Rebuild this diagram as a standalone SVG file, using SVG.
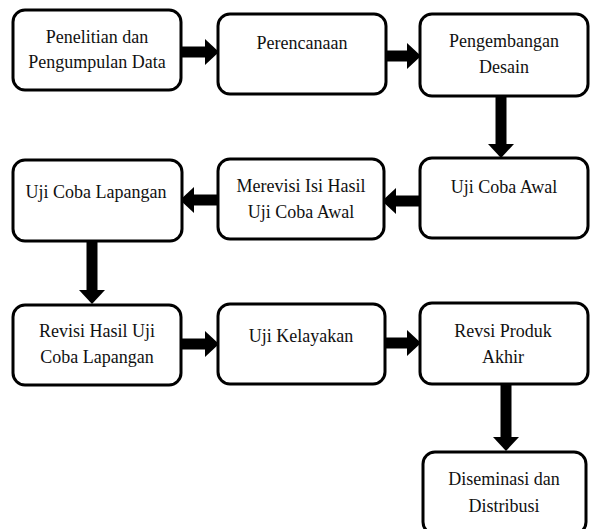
<svg xmlns="http://www.w3.org/2000/svg" width="590" height="529" viewBox="0 0 590 529">
<style>
.box{fill:#fff;stroke:#000;stroke-width:3}
.t{font-size:18px;fill:#111;text-anchor:middle}
.c{stroke:#000;stroke-width:11;fill:none}
</style>
<defs>
<marker id="ah" markerUnits="userSpaceOnUse" markerWidth="14" markerHeight="26" viewBox="0 0 14 26" refX="0" refY="13" orient="auto">
<path d="M0,0 L14,13 L0,26 Z" fill="#000"/>
</marker>
</defs>
<rect width="590" height="529" fill="#fff"/>
<g id="connectors">
<line class="c" x1="181" y1="52" x2="205" y2="52" marker-end="url(#ah)"/>
<line class="c" x1="386" y1="56" x2="407" y2="56" marker-end="url(#ah)"/>
<line class="c" x1="501" y1="96" x2="501" y2="144" marker-end="url(#ah)"/>
<line class="c" x1="420" y1="201" x2="396" y2="201" marker-end="url(#ah)"/>
<line class="c" x1="218" y1="200" x2="194" y2="200" marker-end="url(#ah)"/>
<line class="c" x1="92" y1="241" x2="92" y2="290" marker-end="url(#ah)"/>
<line class="c" x1="181" y1="344" x2="205" y2="344" marker-end="url(#ah)"/>
<line class="c" x1="385" y1="343" x2="407" y2="343" marker-end="url(#ah)"/>
<line class="c" x1="506" y1="384" x2="506" y2="437" marker-end="url(#ah)"/>
</g>
<g font-family="Liberation Serif, Times New Roman, serif">
<g id="n1"><rect class="box" x="13" y="10" width="168" height="80" rx="12"/><text class="t" x="97" y="43">Penelitian dan</text><text class="t" x="97" y="68">Pengumpulan Data</text></g>
<g id="n2"><rect class="box" x="218" y="14" width="168" height="80" rx="12"/><text class="t" x="302" y="49">Perencanaan</text></g>
<g id="n3"><rect class="box" x="420" y="14" width="168" height="82" rx="12"/><text class="t" x="504" y="47">Pengembangan</text><text class="t" x="504" y="73">Desain</text></g>
<g id="n4"><rect class="box" x="420" y="158" width="168" height="80" rx="12"/><text class="t" x="504" y="193">Uji Coba Awal</text></g>
<g id="n5"><rect class="box" x="218" y="159" width="166" height="80" rx="12"/><text class="t" x="301" y="192">Merevisi Isi Hasil</text><text class="t" x="301" y="218">Uji Coba Awal</text></g>
<g id="n6"><rect class="box" x="13" y="160" width="169" height="81" rx="12"/><text class="t" x="96" y="198">Uji Coba Lapangan</text></g>
<g id="n7"><rect class="box" x="13" y="305" width="168" height="80" rx="12"/><text class="t" x="97" y="337">Revisi Hasil Uji</text><text class="t" x="97" y="363">Coba Lapangan</text></g>
<g id="n8"><rect class="box" x="218" y="304" width="167" height="80" rx="12"/><text class="t" x="301" y="342">Uji Kelayakan</text></g>
<g id="n9"><rect class="box" x="420" y="303" width="168" height="81" rx="12"/><text class="t" x="503" y="337">Revsi Produk</text><text class="t" x="503" y="363">Akhir</text></g>
<g id="n10"><rect class="box" x="423" y="452" width="163" height="82" rx="12"/><text class="t" x="504" y="485">Diseminasi dan</text><text class="t" x="504" y="512">Distribusi</text></g>
</g>
</svg>
